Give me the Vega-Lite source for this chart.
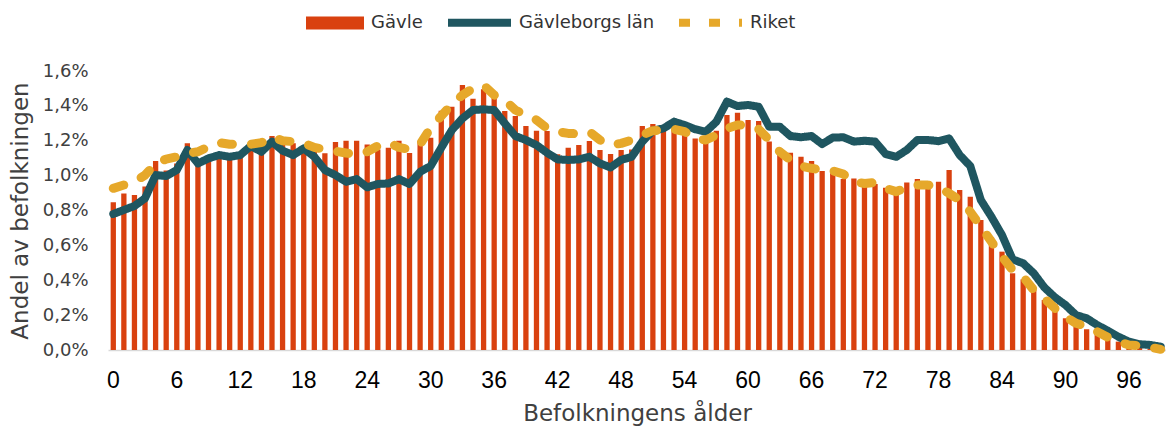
{
  "$schema": "https://vega.github.io/schema/vega-lite/v6.json",
  "width": 1058,
  "height": 279,
  "autosize": {"type": "none"},
  "padding": {"left": 108, "top": 71, "right": 0, "bottom": 78},
  "background": "white",
  "config": {"view": {"stroke": null}, "font": "DejaVu Sans", "axisY": {"labelOverlap": false}},
  "data": {"values": [
    {"age":0,"gavle":0.847,"lan":0.78,"riket":0.927},
    {"age":1,"gavle":0.898,"lan":0.803,"riket":0.946},
    {"age":2,"gavle":0.889,"lan":0.826,"riket":0.965},
    {"age":3,"gavle":0.937,"lan":0.87,"riket":1.003},
    {"age":4,"gavle":1.084,"lan":1.003,"riket":1.07},
    {"age":5,"gavle":1.03,"lan":0.998,"riket":1.095},
    {"age":6,"gavle":1.07,"lan":1.032,"riket":1.108},
    {"age":7,"gavle":1.185,"lan":1.147,"riket":1.128},
    {"age":8,"gavle":1.07,"lan":1.07,"riket":1.137},
    {"age":9,"gavle":1.108,"lan":1.099,"riket":1.166},
    {"age":10,"gavle":1.11,"lan":1.118,"riket":1.189},
    {"age":11,"gavle":1.11,"lan":1.108,"riket":1.18},
    {"age":12,"gavle":1.12,"lan":1.118,"riket":1.18},
    {"age":13,"gavle":1.156,"lan":1.17,"riket":1.18},
    {"age":14,"gavle":1.15,"lan":1.137,"riket":1.189},
    {"age":15,"gavle":1.227,"lan":1.195,"riket":1.223},
    {"age":16,"gavle":1.22,"lan":1.143,"riket":1.2},
    {"age":17,"gavle":1.185,"lan":1.118,"riket":1.195},
    {"age":18,"gavle":1.17,"lan":1.156,"riket":1.186},
    {"age":19,"gavle":1.15,"lan":1.108,"riket":1.162},
    {"age":20,"gavle":1.128,"lan":1.032,"riket":1.15},
    {"age":21,"gavle":1.193,"lan":1.003,"riket":1.14},
    {"age":22,"gavle":1.2,"lan":0.965,"riket":1.13},
    {"age":23,"gavle":1.2,"lan":0.98,"riket":1.12},
    {"age":24,"gavle":1.179,"lan":0.933,"riket":1.137},
    {"age":25,"gavle":1.15,"lan":0.952,"riket":1.17},
    {"age":26,"gavle":1.16,"lan":0.955,"riket":1.189},
    {"age":27,"gavle":1.2,"lan":0.98,"riket":1.162},
    {"age":28,"gavle":1.13,"lan":0.952,"riket":1.15},
    {"age":29,"gavle":1.2,"lan":1.022,"riket":1.18},
    {"age":30,"gavle":1.217,"lan":1.055,"riket":1.275},
    {"age":31,"gavle":1.372,"lan":1.16,"riket":1.342},
    {"age":32,"gavle":1.395,"lan":1.261,"riket":1.41},
    {"age":33,"gavle":1.519,"lan":1.328,"riket":1.462},
    {"age":34,"gavle":1.441,"lan":1.376,"riket":1.5},
    {"age":35,"gavle":1.495,"lan":1.38,"riket":1.519},
    {"age":36,"gavle":1.447,"lan":1.376,"riket":1.462},
    {"age":37,"gavle":1.37,"lan":1.3,"riket":1.433},
    {"age":38,"gavle":1.342,"lan":1.227,"riket":1.376},
    {"age":39,"gavle":1.284,"lan":1.204,"riket":1.347},
    {"age":40,"gavle":1.258,"lan":1.175,"riket":1.319},
    {"age":41,"gavle":1.256,"lan":1.131,"riket":1.271},
    {"age":42,"gavle":1.122,"lan":1.093,"riket":1.252},
    {"age":43,"gavle":1.16,"lan":1.09,"riket":1.242},
    {"age":44,"gavle":1.175,"lan":1.093,"riket":1.24},
    {"age":45,"gavle":1.198,"lan":1.108,"riket":1.252},
    {"age":46,"gavle":1.147,"lan":1.07,"riket":1.204},
    {"age":47,"gavle":1.124,"lan":1.047,"riket":1.175},
    {"age":48,"gavle":1.147,"lan":1.09,"riket":1.185},
    {"age":49,"gavle":1.15,"lan":1.108,"riket":1.204},
    {"age":50,"gavle":1.284,"lan":1.195,"riket":1.233},
    {"age":51,"gavle":1.296,"lan":1.258,"riket":1.258},
    {"age":52,"gavle":1.26,"lan":1.271,"riket":1.261},
    {"age":53,"gavle":1.27,"lan":1.309,"riket":1.266},
    {"age":54,"gavle":1.26,"lan":1.29,"riket":1.252},
    {"age":55,"gavle":1.213,"lan":1.266,"riket":1.213},
    {"age":56,"gavle":1.195,"lan":1.252,"riket":1.204},
    {"age":57,"gavle":1.258,"lan":1.309,"riket":1.233},
    {"age":58,"gavle":1.347,"lan":1.424,"riket":1.271},
    {"age":59,"gavle":1.361,"lan":1.399,"riket":1.29},
    {"age":60,"gavle":1.319,"lan":1.405,"riket":1.29},
    {"age":61,"gavle":1.313,"lan":1.395,"riket":1.266},
    {"age":62,"gavle":1.195,"lan":1.28,"riket":1.204},
    {"age":63,"gavle":1.156,"lan":1.28,"riket":1.137},
    {"age":64,"gavle":1.131,"lan":1.227,"riket":1.089},
    {"age":65,"gavle":1.108,"lan":1.22,"riket":1.055},
    {"age":66,"gavle":1.084,"lan":1.227,"riket":1.042},
    {"age":67,"gavle":1.026,"lan":1.181,"riket":1.032},
    {"age":68,"gavle":1.013,"lan":1.218,"riket":1.028},
    {"age":69,"gavle":0.98,"lan":1.22,"riket":1.009},
    {"age":70,"gavle":0.984,"lan":1.195,"riket":0.965},
    {"age":71,"gavle":0.98,"lan":1.2,"riket":0.955},
    {"age":72,"gavle":0.952,"lan":1.195,"riket":0.96},
    {"age":73,"gavle":0.931,"lan":1.124,"riket":0.927},
    {"age":74,"gavle":0.889,"lan":1.108,"riket":0.908},
    {"age":75,"gavle":0.961,"lan":1.147,"riket":0.933},
    {"age":76,"gavle":0.98,"lan":1.204,"riket":0.946},
    {"age":77,"gavle":0.968,"lan":1.204,"riket":0.946},
    {"age":78,"gavle":0.965,"lan":1.198,"riket":0.933},
    {"age":79,"gavle":1.032,"lan":1.213,"riket":0.898},
    {"age":80,"gavle":0.917,"lan":1.118,"riket":0.86},
    {"age":81,"gavle":0.879,"lan":1.055,"riket":0.793},
    {"age":82,"gavle":0.745,"lan":0.86,"riket":0.707},
    {"age":83,"gavle":0.646,"lan":0.764,"riket":0.621},
    {"age":84,"gavle":0.564,"lan":0.659,"riket":0.535},
    {"age":85,"gavle":0.44,"lan":0.52,"riket":0.459},
    {"age":86,"gavle":0.405,"lan":0.497,"riket":0.42},
    {"age":87,"gavle":0.344,"lan":0.44,"riket":0.344},
    {"age":88,"gavle":0.287,"lan":0.359,"riket":0.296},
    {"age":89,"gavle":0.264,"lan":0.302,"riket":0.239},
    {"age":90,"gavle":0.182,"lan":0.258,"riket":0.191},
    {"age":91,"gavle":0.172,"lan":0.2,"riket":0.153},
    {"age":92,"gavle":0.119,"lan":0.182,"riket":0.134},
    {"age":93,"gavle":0.096,"lan":0.143,"riket":0.105},
    {"age":94,"gavle":0.073,"lan":0.111,"riket":0.073},
    {"age":95,"gavle":0.048,"lan":0.076,"riket":0.048},
    {"age":96,"gavle":0.029,"lan":0.048,"riket":0.029},
    {"age":97,"gavle":0.015,"lan":0.033,"riket":0.025},
    {"age":98,"gavle":0.008,"lan":0.029,"riket":0.015},
    {"age":99,"gavle":0.004,"lan":0.019,"riket":0.004}
  ]},
  "encoding": {
    "x": {
      "field": "age",
      "type": "ordinal",
      "scale": {"paddingInner": 0.5, "paddingOuter": 0.25},
      "axis": {
        "values": [0,6,12,18,24,30,36,42,48,54,60,66,72,78,84,90,96],
        "labelAngle": 0,
        "labelFont": "Liberation Sans",
        "labelFontSize": 23,
        "labelColor": "#000000",
        "labelPadding": 19,
        "ticks": false,
        "domainColor": "#d9d9d9",
        "domainWidth": 1.5,
        "title": "Befolkningens ålder",
        "titleFontSize": 23,
        "titleFontWeight": "normal",
        "titleColor": "#404040",
        "titlePadding": 10
      }
    }
  },
  "layer": [
    {
      "mark": {"type": "bar"},
      "encoding": {
        "y": {
          "field": "gavle",
          "type": "quantitative",
          "scale": {"domain": [0, 1.6], "nice": false},
          "axis": {
            "values": [0,0.2,0.4,0.6,0.8,1.0,1.2,1.4,1.6],
            "labelExpr": "replace(format(datum.value, '.1f'), '.', ',') + '%'",
            "labelOverlap": false,
            "grid": false,
            "domain": false,
            "ticks": false,
            "labelFontSize": 18,
            "labelColor": "#404040",
            "labelPadding": 20,
            "title": "Andel av befolkningen",
            "titleFontSize": 23,
            "titleFontWeight": "normal",
            "titleColor": "#404040",
            "titlePadding": 10
          }
        },
        "fill": {
          "datum": "Gävle",
          "scale": {"domain": ["Gävle"], "range": ["#D9410F"]},
          "legend": {
            "orient": "none",
            "legendX": 197,
            "legendY": -78,
            "direction": "horizontal",
            "title": null,
            "padding": 0,
            "symbolType": "M-1,-0.22H1V0.22H-1Z",
            "symbolSize": 3364,
            "labelFontSize": 18,
            "labelColor": "#333333",
            "labelOffset": 6
          }
        }
      }
    },
    {
      "mark": {"type": "line", "strokeWidth": 8, "strokeJoin": "round", "strokeCap": "round"},
      "encoding": {
        "x": {"field": "age", "type": "ordinal", "bandPosition": 0.5},
        "y": {
          "field": "lan",
          "type": "quantitative",
          "axis": {
            "values": [0,0.2,0.4,0.6,0.8,1.0,1.2,1.4,1.6],
            "labelExpr": "replace(format(datum.value, '.1f'), '.', ',') + '%'",
            "labelOverlap": false,
            "grid": false,
            "domain": false,
            "ticks": false,
            "labelFontSize": 18,
            "labelColor": "#404040",
            "labelPadding": 20,
            "title": "Andel av befolkningen",
            "titleFontSize": 23,
            "titleFontWeight": "normal",
            "titleColor": "#404040",
            "titlePadding": 10
          }
        },
        "stroke": {
          "datum": "Gävleborgs län",
          "scale": {"domain": ["Gävleborgs län", "Riket"], "range": ["#1F5660", "#E6A82A"]},
          "legend": {
            "orient": "none",
            "legendX": 336,
            "legendY": -84,
            "direction": "horizontal",
            "title": null,
            "padding": 0,
            "symbolType": "stroke",
            "symbolSize": 3969,
            "symbolStrokeWidth": 8,
            "labelFontSize": 18,
            "labelColor": "#333333",
            "labelOffset": 4,
            "columnPadding": 8
          }
        },
        "strokeDash": {
          "datum": "Gävleborgs län",
          "scale": {"domain": ["Gävleborgs län", "Riket"], "range": [[1, 0], [11, 19]]},
          "legend": {
            "orient": "none",
            "legendX": 336,
            "legendY": -84,
            "direction": "horizontal",
            "title": null,
            "padding": 0,
            "symbolType": "stroke",
            "symbolSize": 3969,
            "symbolStrokeWidth": 8,
            "labelFontSize": 18,
            "labelColor": "#333333",
            "labelOffset": 4,
            "columnPadding": 8
          }
        }
      }
    },
    {
      "mark": {"type": "line", "strokeWidth": 9, "strokeJoin": "round", "strokeCap": "round"},
      "encoding": {
        "x": {"field": "age", "type": "ordinal", "bandPosition": 0.5},
        "y": {
          "field": "riket",
          "type": "quantitative",
          "axis": {
            "values": [0,0.2,0.4,0.6,0.8,1.0,1.2,1.4,1.6],
            "labelExpr": "replace(format(datum.value, '.1f'), '.', ',') + '%'",
            "labelOverlap": false,
            "grid": false,
            "domain": false,
            "ticks": false,
            "labelFontSize": 18,
            "labelColor": "#404040",
            "labelPadding": 20,
            "title": "Andel av befolkningen",
            "titleFontSize": 23,
            "titleFontWeight": "normal",
            "titleColor": "#404040",
            "titlePadding": 10
          }
        },
        "stroke": {"datum": "Riket"},
        "strokeDash": {"datum": "Riket"}
      }
    }
  ]
}
